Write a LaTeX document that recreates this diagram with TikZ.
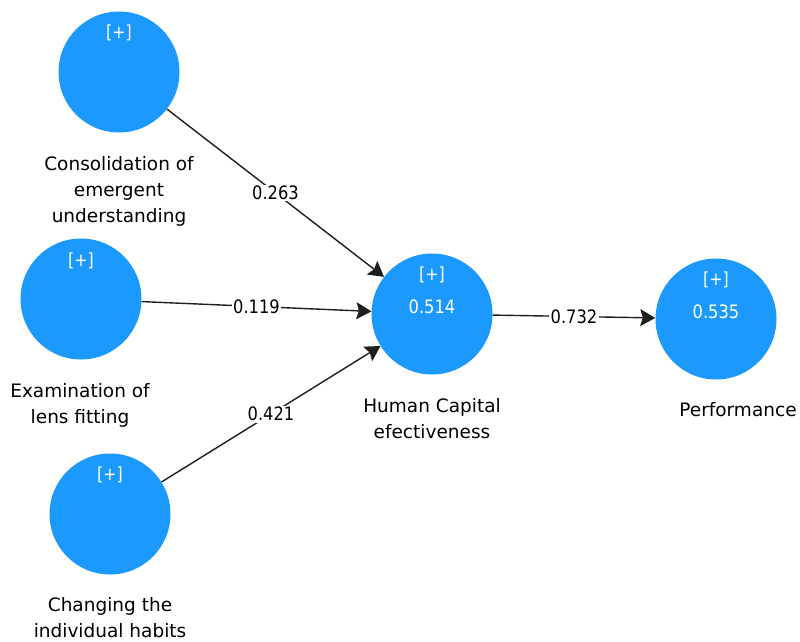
\documentclass[tikz,border=0pt]{standalone}
\usepackage{fontspec}
\setmainfont{DejaVu Sans}
\newfontfamily\numfont[FakeStretch=0.88]{DejaVu Sans}
\usetikzlibrary{arrows.meta}
\definecolor{lvblue}{RGB}{28,153,255}
\definecolor{pathgray}{RGB}{30,30,30}
\tikzset{
  lv/.style={circle, fill=lvblue, draw=none, minimum size=121pt, inner sep=0pt},
  plus/.style={text=white, font=\numfont\fontsize{18}{20}\selectfont},
  rsq/.style={text=white, font=\numfont\fontsize{18.5}{20}\selectfont},
  lvlabel/.style={align=center, text=black, font=\fontsize{18.5}{26}\selectfont},
  path/.style={draw=pathgray, line width=1.4pt, -{Stealth[length=15pt,width=17pt,inset=2.5pt]}},
  coef/.style={fill=white, inner sep=1.5pt, text=black, font=\numfont\fontsize{18.5}{20}\selectfont}
}
\begin{document}
\begin{tikzpicture}[x=1pt,y=-1pt]
\useasboundingbox (0,0) rectangle (800,642);
% latent variables
\node[lv] (cons) at (119,72) {};
\node[lv] (exam) at (81,299) {};
\node[lv] (chan) at (110,514) {};
\node[lv] (hc) at (432,314) {};
\node[lv] (perf) at (716,319) {};
% [+] markers
\node[plus] (consp) at (119,33) {[+]};
\node[plus] (examp) at (81,261) {[+]};
\node[plus] (chanp) at (110,475) {[+]};
\node[plus] (hcp) at (432,275) {[+]};
\node[plus] (perfp) at (716,280) {[+]};
% R squared
\node[rsq] (hcr) at (432,307) {0.514};
\node[rsq] (perfr) at (716,312) {0.535};
% labels
\node[lvlabel] (consl) at (119,191.5) {Consolidation of\\emergent\\understanding};
\node[lvlabel] (examl) at (80,405) {Examination of\\lens fitting};
\node[lvlabel] (chanl) at (110,618) {Changing the\\individual habits};
\node[lvlabel] (hcl) at (432,418.5) {Human Capital\\efectiveness};
\node[lvlabel] (perfl) at (738,410) {Performance};
% paths
\draw[path] (cons) -- node[coef] (c1) {0.263} (hc);
\draw[path] (exam) -- node[coef] (c2) {0.119} (hc);
\draw[path] (chan) -- node[coef] (c3) {0.421} (hc);
\draw[path] (hc) -- node[coef] (c4) {0.732} (perf);
\end{tikzpicture}
\end{document}
